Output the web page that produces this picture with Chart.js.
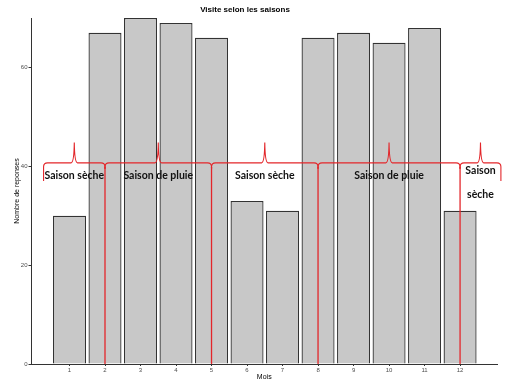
<!DOCTYPE html>
<html><head><meta charset="utf-8">
<script src="https://cdn.jsdelivr.net/npm/chart.js@4"></script>
<style>html,body{margin:0;padding:0;background:#fff}#c{display:block}</style>
</head><body>
<canvas id="c" width="525" height="384"></canvas>
<script>
const months = [1,2,3,4,5,6,7,8,9,10,11,12];
const responses = [30,67,70,69,66,33,31,66,67,65,68,31];
const yTicks = [0,20,40,60];
const seasonLabels = [['Saison sèche'],['Saison de pluie'],['Saison sèche'],['Saison de pluie'],['Saison','sèche']];
const seasonBounds = [0.27, 2, 5, 8, 12, 13.15];
const chartTitle = 'Visite selon les saisons';
const xTitle = 'Mois';
const yTitle = 'Nombre de reponses';

const annot = {
  id: 'annot',
  afterDatasetsDraw(chart) {
    const {ctx, scales: {x, y}} = chart;
    ctx.save();
    ctx.strokeStyle = '#e3262a';
    ctx.lineWidth = 1.1;
    const y0 = y.getPixelForValue(40.7);
    const yp = y.getPixelForValue(44.8);
    const yEnd = y.getPixelForValue(37.0);
    const yBase = y.getPixelForValue(0);
    const r = 4;
    const n = seasonLabels.length;
    for (let i = 0; i < n; i++) {
      const xa = x.getPixelForValue(seasonBounds[i]);
      const xb = x.getPixelForValue(seasonBounds[i + 1]);
      const xm = (xa + xb) / 2;
      ctx.beginPath();
      ctx.moveTo(xa, i === 0 ? yEnd : y0 + r + 2);
      ctx.lineTo(xa, y0 + r);
      ctx.quadraticCurveTo(xa, y0, xa + r, y0);
      ctx.lineTo(xm - 3, y0);
      ctx.quadraticCurveTo(xm - 0.3, y0 - 0.5, xm, yp);
      ctx.quadraticCurveTo(xm + 0.3, y0 - 0.5, xm + 3, y0);
      ctx.lineTo(xb - r, y0);
      ctx.quadraticCurveTo(xb, y0, xb, y0 + r);
      ctx.lineTo(xb, i === n - 1 ? yEnd : y0 + r + 2);
      ctx.stroke();
    }
    ctx.lineWidth = 1.3;
    for (let i = 1; i < n; i++) {
      const xv = x.getPixelForValue(seasonBounds[i]);
      ctx.beginPath();
      ctx.moveTo(xv, y0 + r);
      ctx.lineTo(xv, yBase);
      ctx.stroke();
    }
    ctx.fillStyle = '#111';
    ctx.font = 'bold 10.5px Lato';
    ctx.textAlign = 'center';
    ctx.textBaseline = 'middle';
    for (let i = 0; i < n; i++) {
      const xm = (x.getPixelForValue(seasonBounds[i]) + x.getPixelForValue(seasonBounds[i + 1])) / 2;
      const lines = seasonLabels[i];
      if (lines.length === 1) {
        ctx.fillText(lines[0], xm, y.getPixelForValue(38.2));
      } else {
        ctx.fillText(lines[0], xm, y.getPixelForValue(39.1));
        ctx.fillText(lines[1], xm, y.getPixelForValue(34.2));
      }
    }
    ctx.restore();
  },
  afterDraw(chart) {
    const {ctx, chartArea} = chart;
    ctx.save();
    ctx.fillStyle = '#000';
    ctx.textAlign = 'center';
    ctx.textBaseline = 'middle';
    ctx.font = 'bold 8px "Liberation Sans"';
    ctx.fillText(chartTitle, 245, 10);
    ctx.font = '7px "Liberation Sans"';
    ctx.fillText(xTitle, (chartArea.left + chartArea.right) / 2, 377);
    ctx.translate(17, (chartArea.top + chartArea.bottom) / 2);
    ctx.rotate(-Math.PI / 2);
    ctx.fillText(yTitle, 0, 0);
    ctx.restore();
  }
};

new Chart(document.getElementById('c'), {
  type: 'bar',
  data: {
    datasets: [{
      data: months.map((m, i) => ({x: m, y: responses[i]})),
      backgroundColor: '#c8c8c8',
      borderColor: '#333333',
      borderWidth: 1.3,
      barPercentage: 0.93,
      categoryPercentage: 1
    }]
  },
  options: {
    responsive: false,
    animation: false,
    devicePixelRatio: 1,
    layout: {padding: {top: 18, right: 28, left: 0, bottom: 0}},
    plugins: {legend: {display: false}, tooltip: {enabled: false}, title: {display: false}},
    scales: {
      x: {
        type: 'linear',
        offset: false,
        min: -0.07,
        max: 13.04,
        afterBuildTicks: s => { s.ticks = months.map(v => ({value: v})); },
        afterFit: s => { s.height = 20; },
        ticks: {font: {size: 6, family: 'Liberation Sans'}, color: '#4d4d4d', padding: 1, maxRotation: 0, autoSkip: false},
        grid: {display: true, offset: false, drawOnChartArea: false, tickLength: 2, color: '#333'},
        border: {display: true, color: '#333', width: 1}
      },
      y: {
        min: 0,
        max: 70,
        afterBuildTicks: s => { s.ticks = yTicks.map(v => ({value: v})); },
        afterFit: s => { s.width = 31.5; },
        ticks: {font: {size: 6, family: 'Liberation Sans'}, color: '#4d4d4d', padding: 1},
        grid: {display: true, drawOnChartArea: false, tickLength: 3, color: '#333'},
        border: {display: true, color: '#333', width: 1}
      }
    }
  },
  plugins: [annot]
});
</script>
</body></html>
